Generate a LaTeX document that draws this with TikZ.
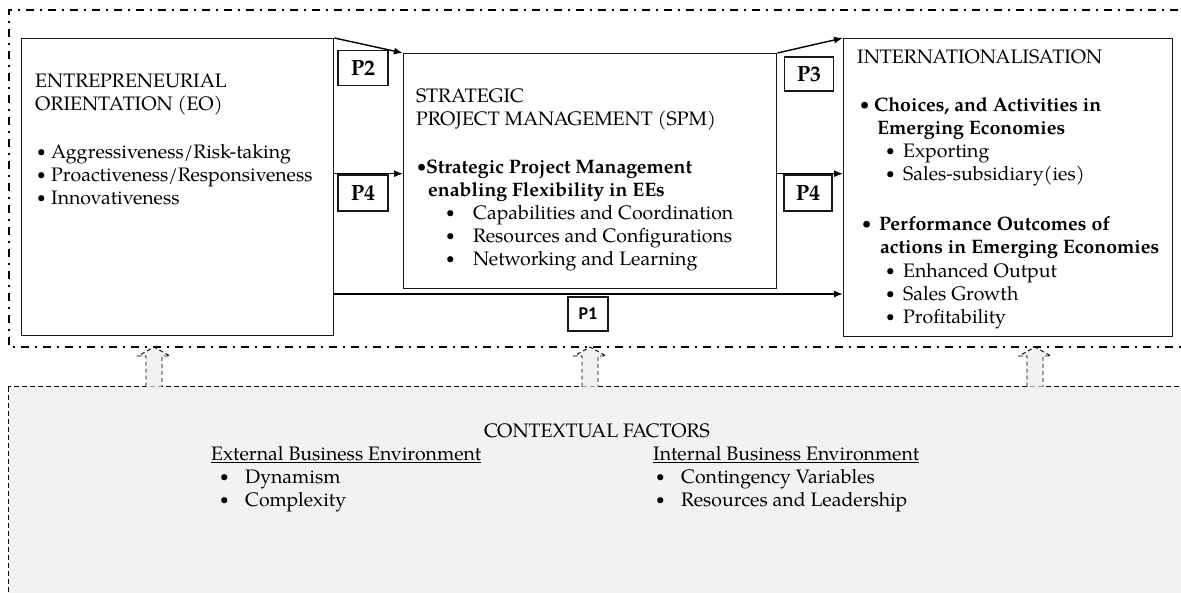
\documentclass[tikz,border=0pt]{standalone}
\usepackage{fontspec}
\setmainfont{texgyrepagella}[Extension=.otf,UprightFont=*-regular,BoldFont=*-bold,ItalicFont=*-italic,BoldItalicFont=*-bolditalic]
\newfontfamily\calibri{Carlito}
\usetikzlibrary{arrows.meta}
\definecolor{ctx}{HTML}{F2F2F2}
\newcommand\bl[1]{\makebox[#1][l]{\raisebox{0.12ex}{\scalebox{0.78}{\textbullet}}}}
\begin{document}
\begin{tikzpicture}[x=1pt,y=-1pt,
  txt/.style={anchor=base west, inner sep=0, font=\fontsize{19.5}{23}\selectfont},
  btxt/.style={txt, font=\fontsize{19.5}{23}\selectfont\bfseries},
  bx/.style={draw=black!90, line width=1.4pt, anchor=north west, inner sep=0},
  pbox/.style={draw=black!90, line width=1.4pt, inner sep=0, font=\fontsize{22}{24}\selectfont\bfseries},
  arr/.style={-{Latex[length=9pt,width=7pt]}, line width=1.4pt},
  dashdot/.style={line width=2.6pt, dash pattern=on 8pt off 6pt on 2pt off 6pt},
  ctxbox/.style={draw=black, line width=1pt, dash pattern=on 5pt off 3pt, fill=ctx},
  blockarr/.style={draw=black, line width=0.9pt, dash pattern=on 4pt off 3pt, fill=ctx}]
\useasboundingbox (0,0) rectangle (1181,592);
\clip (0,0) rectangle (1181,592);
% contextual box
\draw[ctxbox] (8,386.5) rectangle (1200,620);
% outer dash-dot frame
\draw[dashdot] (1200,10) -- (9,10) -- (9,347) -- (1200,347);
% block arrows
\foreach \cx in {154,590,1035}{
  \draw[blockarr] (\cx-8,386.5) -- (\cx-8,356) -- (\cx-16,356) -- (\cx,347) -- (\cx+16,356) -- (\cx+8,356) -- (\cx+8,386.5);
}
% main boxes
\node[bx, minimum width=312pt, minimum height=297pt] (eo) at (21,38) {};
\node[bx, minimum width=373pt, minimum height=235pt] (spm) at (403,53) {};
\node[bx, minimum width=329pt, minimum height=298pt] (int) at (843,38) {};
% proposition boxes
\node[pbox, minimum width=50pt, minimum height=35pt] (p2) at (363,68) {P2};
\node[pbox, minimum width=50pt, minimum height=36pt] (p4a) at (363,193) {P4};
\node[pbox, minimum width=49pt, minimum height=34pt] (p3) at (809,74) {P3};
\node[pbox, minimum width=48pt, minimum height=36pt] (p4b) at (808,193) {P4};
\node[pbox, minimum width=40pt, minimum height=34pt, font=\calibri\bfseries\fontsize{18}{20}\selectfont] (p1) at (588,314) {P1};
% connectors
\coordinate (p1y) at (600,294);
\draw[arr] (eo.north east) -- (spm.north west);
\draw[arr] (spm.north east) -- (int.north west);
\draw[arr] ([yshift=-2.5pt]eo.east |- spm.west) -- ([yshift=-2.5pt]spm.west);
\draw[arr] ([yshift=-2.5pt]spm.east) -- ([yshift=-2.5pt]int.west |- spm.east);
\draw[arr] (eo.east |- p1y) -- (int.west |- p1y);
% EO text
\node[txt] (eo1) at (35,87) {ENTREPRENEURIAL};
\node[txt] (eo2) at (35,110) {ORIENTATION (EO)};
\node[txt] (eo3) at (37,158) {\bl{14pt}Aggressiveness/Risk-taking};
\node[txt] (eo4) at (37,181) {\bl{14pt}Proactiveness/Responsiveness};
\node[txt] (eo5) at (37,204) {\bl{14pt}Innovativeness};
% SPM text
\node[txt] (s1) at (416,102) {STRATEGIC};
\node[txt] (s2) at (416,125) {PROJECT MANAGEMENT (SPM)};
\node[btxt] (s3) at (417,173) {\bl{9pt}Strategic Project Management};
\node[btxt] (s4) at (428,196) {enabling Flexibility in EEs};
\node[txt] (s5) at (446,219) {\bl{27pt}Capabilities and Coordination};
\node[txt] (s6) at (446,242) {\bl{27pt}Resources and Configurations};
\node[txt] (s7) at (446,265) {\bl{27pt}Networking and Learning};
% INT text
\node[txt] (i1) at (857,63) {INTERNATIONALISATION};
\node[btxt] (i2) at (860,111) {\bl{14pt}Choices, and Activities in};
\node[btxt] (i3) at (877,134) {Emerging Economies};
\node[txt] (i4) at (886,157) {\bl{17pt}Exporting};
\node[txt] (i5) at (886,180) {\bl{17pt}Sales-subsidiary(ies)};
\node[btxt] (i6) at (862,230) {\bl{17pt}Performance Outcomes of};
\node[btxt] (i7) at (880,253) {actions in Emerging Economies};
\node[txt] (i8) at (886,277) {\bl{17pt}Enhanced Output};
\node[txt] (i9) at (886,300) {\bl{17pt}Sales Growth};
\node[txt] (i10) at (886,323) {\bl{17pt}Profitability};
% contextual text
\node[txt, anchor=base] (c1) at (597,437) {CONTEXTUAL FACTORS};
\node[txt] (c2) at (211,460) {\underline{External Business Environment}};
\node[txt] (c3) at (220,483) {\bl{25pt}Dynamism};
\node[txt] (c4) at (220,506) {\bl{25pt}Complexity};
\node[txt] (c5) at (653,460) {\underline{Internal Business Environment}};
\node[txt] (c6) at (656,483) {\bl{25pt}Contingency Variables};
\node[txt] (c7) at (656,506) {\bl{25pt}Resources and Leadership};
\end{tikzpicture}
\end{document}
